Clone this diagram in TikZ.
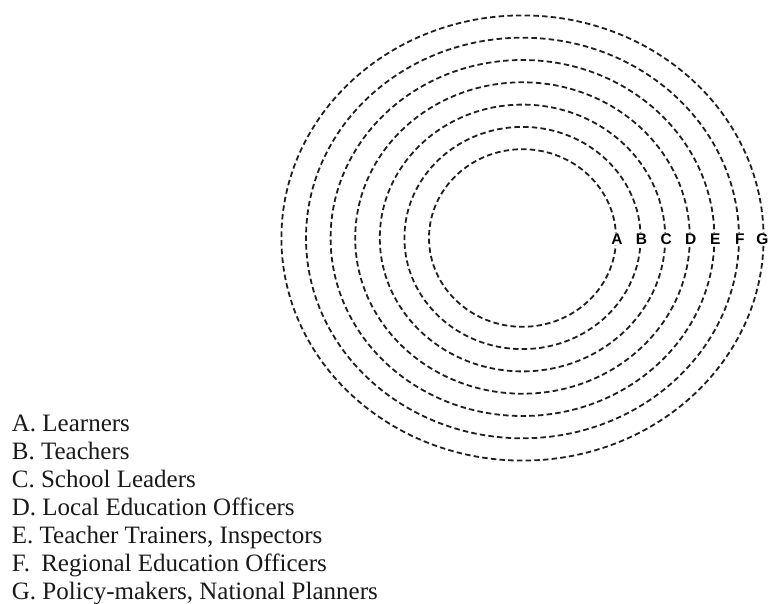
\documentclass[tikz,border=0pt]{standalone}
\usepackage{fontspec}
\setmainfont{Liberation Serif}
\newfontfamily\ringfont{Liberation Sans}
\usetikzlibrary{shapes.geometric}

\tikzset{
  ring/.style={ellipse, draw=black!88, line width=1.8pt,
    dash pattern=on 5.5pt off 3.2pt, inner sep=0pt,
    minimum width=#1},
  ringlabel/.style={fill=white, inner sep=0.8pt, text=black,
    font=\ringfont\bfseries\fontsize{15.5}{15.5}\selectfont},
  legendline/.style={anchor=base west, inner sep=0pt, text=black!90,
    font=\fontsize{25}{28}\selectfont}
}

\begin{document}
\begin{tikzpicture}[x=1pt, y=-1pt]
  \useasboundingbox (0,0) rectangle (769,604);
  \clip (0,0) rectangle (769,604);

  % concentric stakeholder rings, innermost (A) to outermost (G)
  \foreach \k/\name in {0/A,1/B,2/C,3/D,4/E,5/F,6/G}{
    \pgfmathsetmacro{\rx}{93.5+24.6*\k}
    \pgfmathsetmacro{\ry}{88.8+22.3*\k}
    \node[ring=2*\rx pt, minimum height=2*\ry pt] (ring\name) at (522.5,238) {};
  }

  % letters sitting on the right-hand side of each ring
  \foreach \name in {A,B,C,D,E,F}{
    \node[ringlabel] (lab\name) at ([yshift=-1pt]ring\name.east) {\name};
  }
  % the outermost letter is kept just inside the right edge
  \node[ringlabel, anchor=east] (labG) at ([xshift=5pt, yshift=-1pt]ringG.east) {G};

  % legend
  \node[legendline] (legA) at (11.7,431.5) {A. Learners};
  \node[legendline] (legB) at (11.7,459.5) {B. Teachers};
  \node[legendline] (legC) at (11.7,487.5) {C. School Leaders};
  \node[legendline] (legD) at (11.7,515.5) {D. Local Education Officers};
  \node[legendline] (legE) at (11.7,543.5) {E. Teacher Trainers, Inspectors};
  \node[legendline] (legF) at (11.7,571.5) {F.\hspace{0.45em}Regional Education Officers};
  \node[legendline] (legG) at (11.7,599.0) {G. Policy-makers, National Planners};
\end{tikzpicture}
\end{document}
